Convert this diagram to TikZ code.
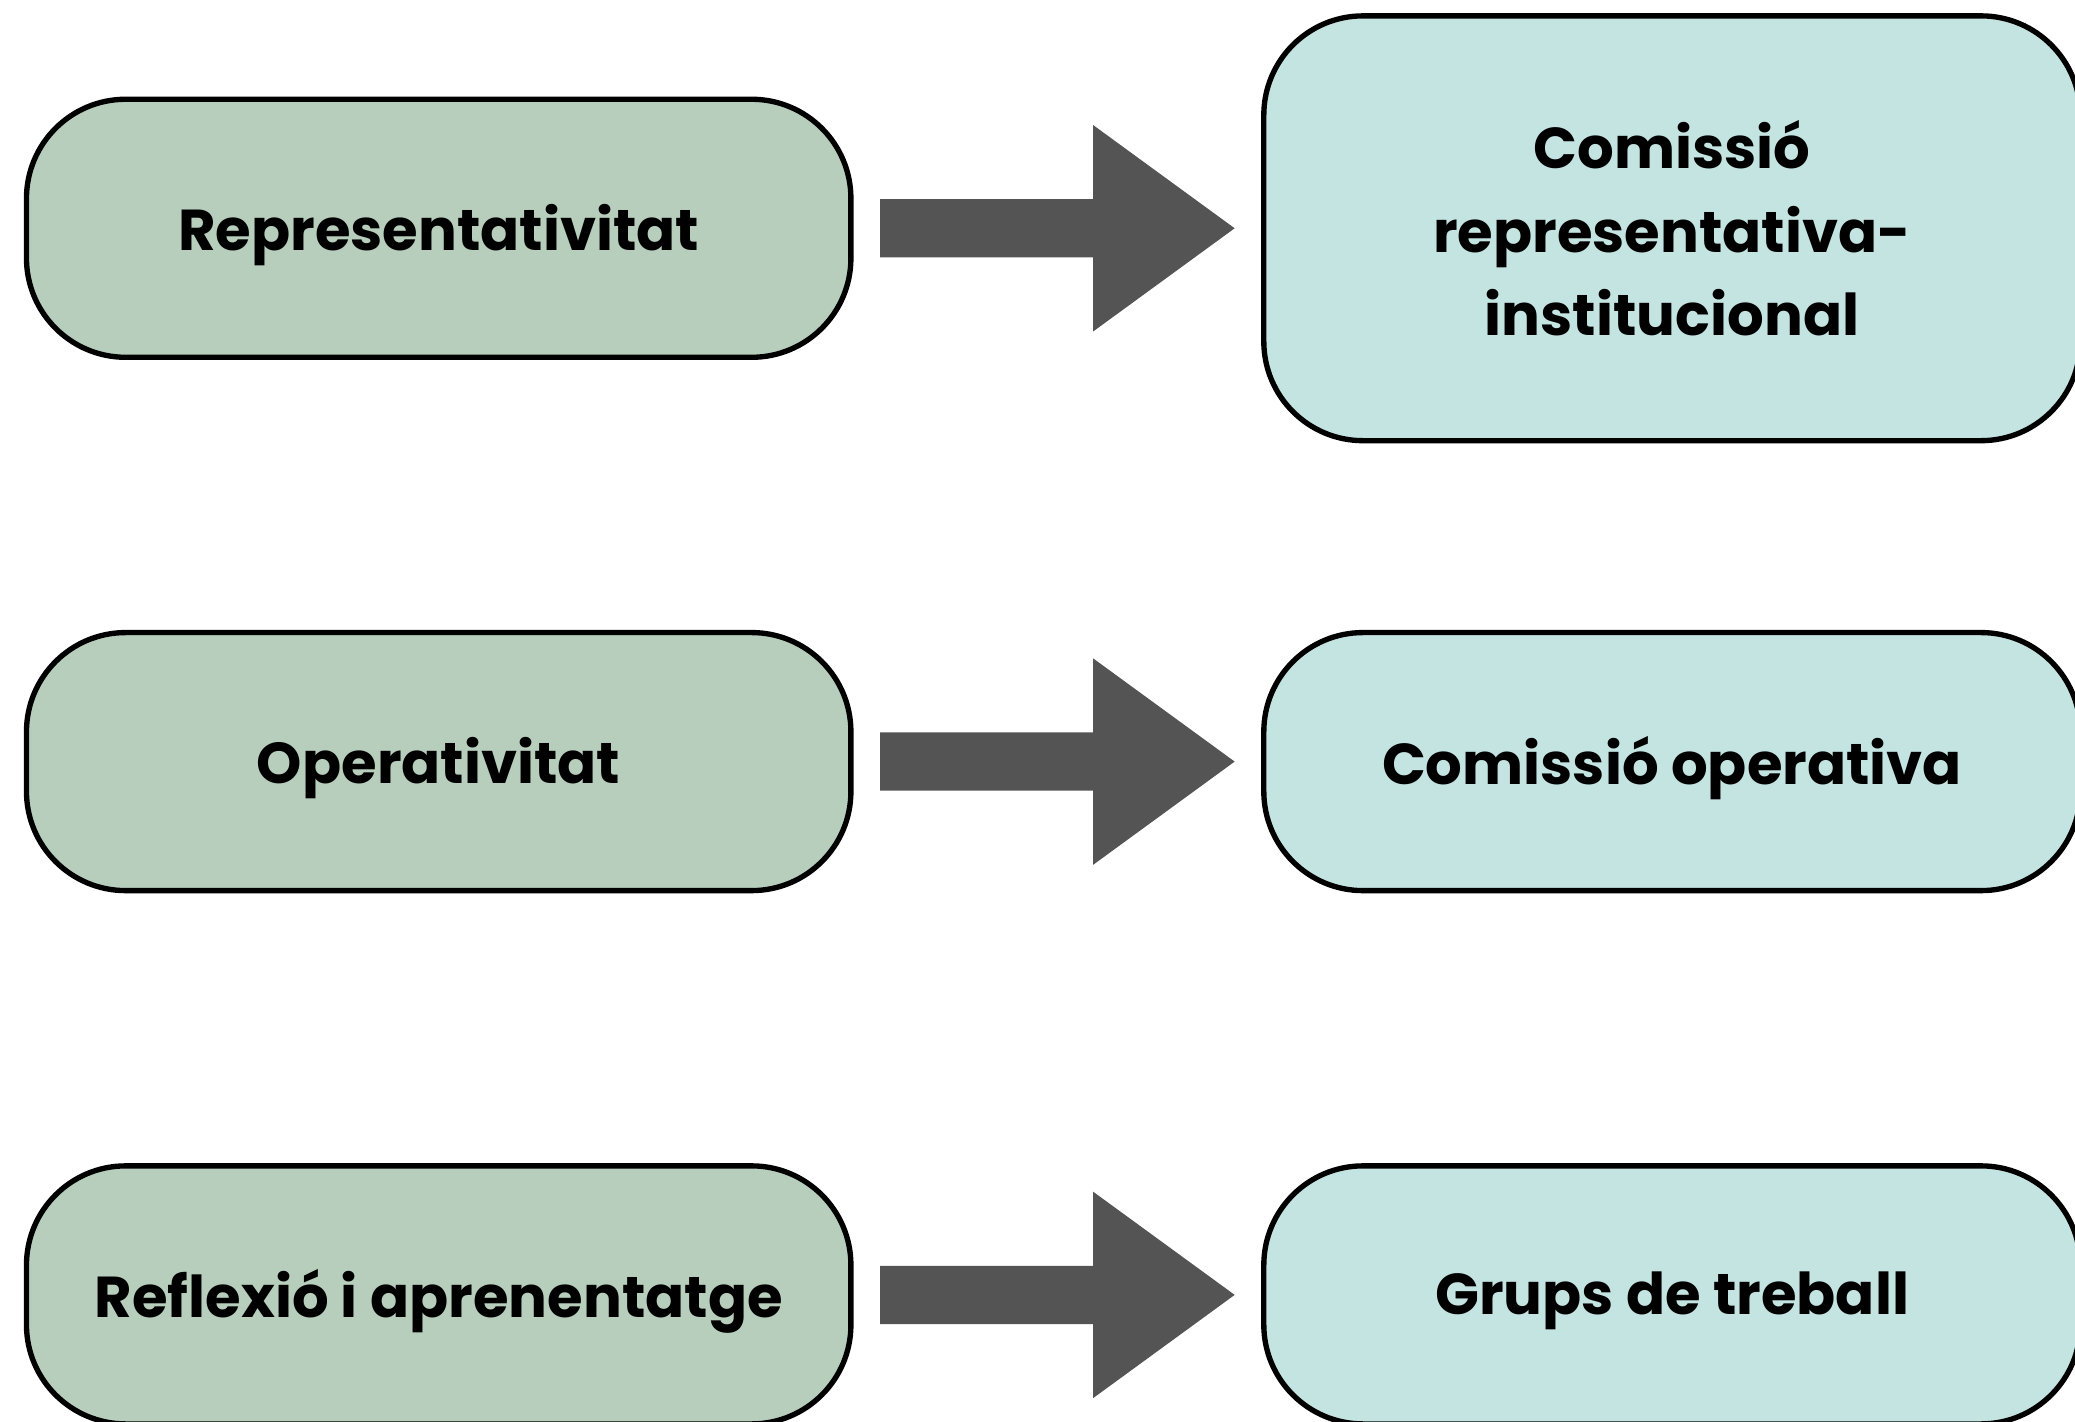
\documentclass[tikz,border=0pt]{standalone}
\usepackage{fontspec}
\setmainfont{Poppins}[BoldFont={* Bold}]
\usetikzlibrary{calc}
\definecolor{greenbox}{HTML}{B6CEBB}
\definecolor{bluebox}{HTML}{C4E4E2}
\definecolor{arrowc}{HTML}{545454}
\tikzset{
  box/.style={draw=black, line width=1.15pt, rounded corners=0.75cm, inner sep=0pt,
    font=\bfseries\fontsize{12.4pt}{17.9pt}\selectfont, align=center, text=black},
  leftbox/.style={box, fill=greenbox, minimum width=6.23cm, minimum height=1.95cm},
  rightbox/.style={box, fill=bluebox, minimum width=6.17cm, minimum height=1.95cm},
  bigarrow/.style={fill=arrowc}
}
\newcommand{\bigarr}[2]{%
  \fill[bigarrow] ($(#1.east)+(0.20,0.22)$) -- ++(1.61,0) -- ++(0,0.56)
    -- ($(#2.west |- #1.east)+(-0.20,0)$) -- ($(#1.east)+(1.81,-0.78)$)
    -- ++(0,0.56) -- ($(#1.east)+(0.20,-0.22)$) -- cycle;}
\begin{document}
\begin{tikzpicture}
\useasboundingbox (0,0) rectangle (15.68,-10.74);
\clip (0,0) rectangle (15.68,-10.74);
\node[leftbox, text depth=0.02cm] (l1) at (3.315,-1.725) {Representativitat};
\node[rightbox, minimum height=3.21cm] (r1) at (12.635,-1.725) {Comissió\\representativa-\\institucional};
\node[leftbox, text depth=0.02cm] (l2) at (3.315,-5.755) {Operativitat};
\node[rightbox, text depth=0.02cm] (r2) at (12.635,-5.755) {Comissió operativa};
\node[leftbox, text depth=0.02cm] (l3) at (3.315,-9.785) {Reflexió i aprenentatge};
\node[rightbox, text depth=0.02cm] (r3) at (12.635,-9.785) {Grups de treball};
\bigarr{l1}{r1}
\bigarr{l2}{r2}
\bigarr{l3}{r3}
\end{tikzpicture}
\end{document}
